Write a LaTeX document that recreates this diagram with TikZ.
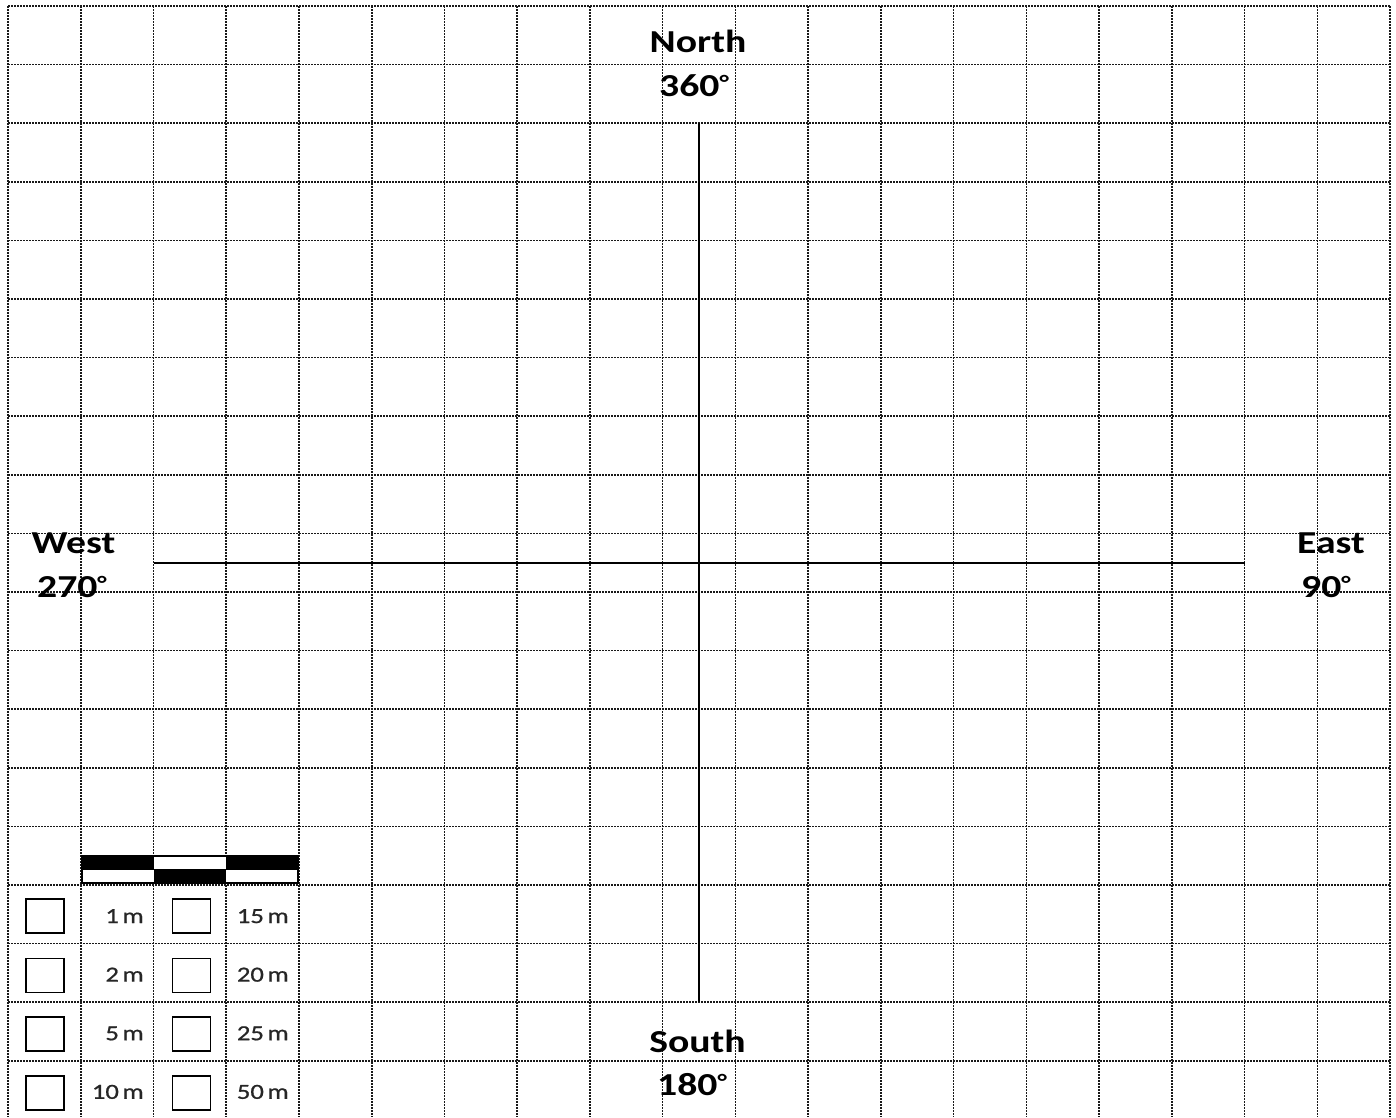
\documentclass[tikz,border=0pt]{standalone}
\usepackage{fontspec}
\newfontfamily\labfont[FakeStretch=1.24]{Carlito}
\newfontfamily\smallfont[FakeStretch=1.24,FakeBold=0.8]{Carlito}
\newcommand\degsign{\raisebox{5.5pt}{\fontsize{22}{22}\selectfont °}}
\begin{document}
\begin{tikzpicture}[x=1pt,y=-1pt,
  gridline/.style={line width=1.6pt, black!90, dash pattern=on 1.6pt off 1.4pt},
  axisline/.style={line width=1.6pt, black},
  big/.style={font=\labfont\bfseries\fontsize{32}{36}\selectfont, inner sep=0pt, anchor=base},
  small/.style={font=\smallfont\fontsize{21.5}{24}\selectfont, text=black!85, inner sep=0pt, anchor=base east},
  cbox/.style={draw, line width=1.6pt, minimum width=38pt, minimum height=34pt, inner sep=0pt}]
\useasboundingbox (0,0) rectangle (1396,1117);
\fill[white] (0,0) rectangle (1396,1117);
% grid
\foreach \i in {0,...,19} \draw[gridline] ({8+72.74*\i},6) -- ({8+72.74*\i},1117);
\foreach \j in {0,...,18} \draw[gridline] (8,{6+58.6*\j}) -- (1390,{6+58.6*\j});
% scale bar
\fill[black] (82,856) rectangle (153.5,869.5);
\fill[white] (153.5,856) rectangle (226.2,869.5);
\fill[black] (226.2,856) rectangle (298,869.5);
\fill[white] (82,869.5) rectangle (153.5,883);
\fill[black] (153.5,869.5) rectangle (226.2,883);
\fill[white] (226.2,869.5) rectangle (298,883);
\draw[line width=1.5pt] (82,856) rectangle (298,883);
\draw[line width=1.2pt] (82,869.5) -- (298,869.5);
% check boxes
\node[cbox] (b1) at (45,916) {};
\node[cbox] (b2) at (45,975.5) {};
\node[cbox] (b3) at (45,1034) {};
\node[cbox] (b4) at (45,1093) {};
\node[cbox] (b15) at (191.5,916) {};
\node[cbox] (b20) at (191.5,975.5) {};
\node[cbox] (b25) at (191.5,1034) {};
\node[cbox] (b50) at (191.5,1093) {};
\node[small] (l1) at (144,923) {1\,m};
\node[small] (l2) at (144,981.6) {2\,m};
\node[small] (l5) at (144,1040.2) {5\,m};
\node[small] (l10) at (144,1098.8) {10\,m};
\node[small] (l15) at (289,923) {15\,m};
\node[small] (l20) at (289,981.6) {20\,m};
\node[small] (l25) at (289,1040.2) {25\,m};
\node[small] (l50) at (289,1098.8) {50\,m};
% axes
\coordinate (N) at (699,123.2);
\coordinate (S) at (699,1002.2);
\coordinate (W) at (153.5,562.7);
\coordinate (E) at (1244.6,562.7);
\draw[axisline] (N) -- (S);
\draw[axisline] (W) -- (E);
% labels
\node[big] (north) at (698,52) {North};
\node[big] (n360) at (694,96) {360\degsign};
\node[big] (south) at (697.5,1052) {South};
\node[big] (s180) at (692,1095) {180\degsign};
\node[big] (west) at (73.5,553) {West};
\node[big] (w270) at (72,597) {270\degsign};
\node[big] (east) at (1331,553) {East};
\node[big] (e90) at (1326,597) {90\degsign};
\end{tikzpicture}
\end{document}
